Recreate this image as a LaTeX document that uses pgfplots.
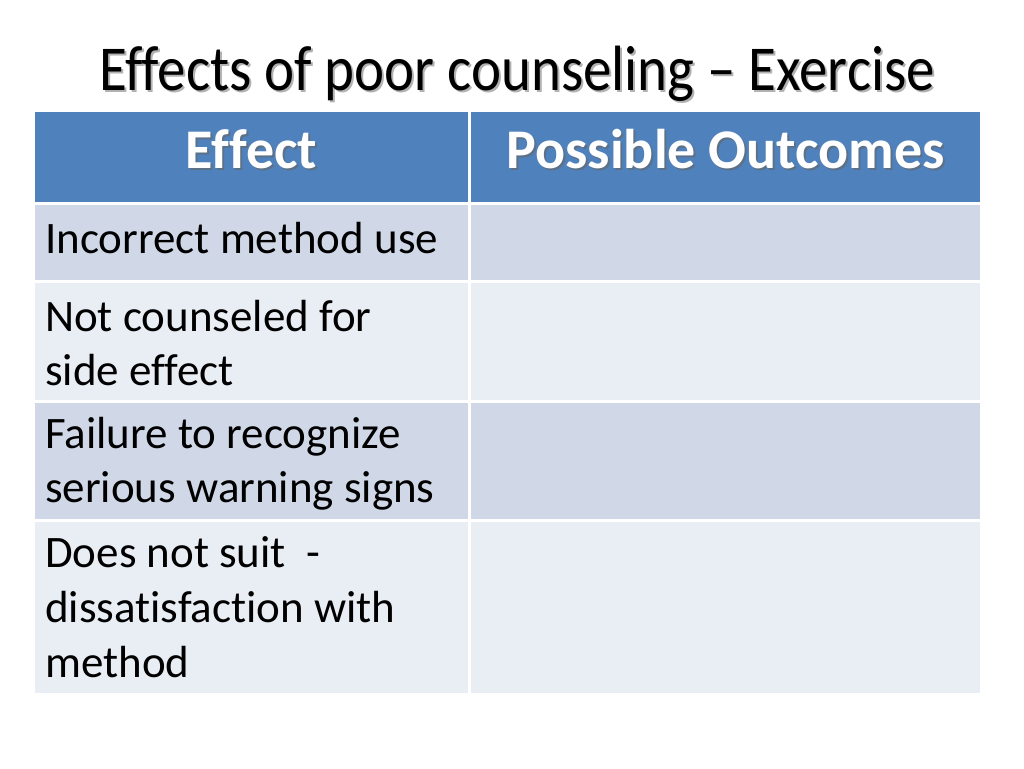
\documentclass[border=0pt]{standalone}
\usepackage{fontspec}
\setmainfont{Carlito}[Ligatures=NoCommon]
\usepackage{graphicx}
\usepackage{pgfplots}
\pgfplotsset{compat=1.18}
\definecolor{hdr}{HTML}{4F81BD}
\definecolor{rowA}{HTML}{D0D8E8}
\definecolor{rowB}{HTML}{E9EDF4}
\newcommand{\cell}[5]{\addplot[fill=#5, draw=none] coordinates {(#1,#2) (#3,#2) (#3,#4) (#1,#4)};}
\newcommand{\ttl}{\scalebox{0.89}[1]{\fontsize{64}{76}\selectfont Effects of poor counseling – Exercise}}
\begin{document}
\begin{tikzpicture}
\begin{axis}[
  width=1024pt, height=768pt, scale only axis,
  xmin=0, xmax=1024, ymin=0, ymax=768, y dir=reverse,
  axis lines=none, ticks=none, clip=false,
]
\cell{0}{0}{1024}{768}{white}
% header
\cell{35}{112}{468}{202}{hdr}
\cell{471}{112}{980}{202}{hdr}
% rows
\cell{35}{205}{468}{280}{rowA}
\cell{471}{205}{980}{280}{rowA}
\cell{35}{283}{468}{400}{rowB}
\cell{471}{283}{980}{400}{rowB}
\cell{35}{403}{468}{519}{rowA}
\cell{471}{403}{980}{519}{rowA}
\cell{35}{522}{468}{693}{rowB}
\cell{471}{522}{980}{693}{rowB}
% title
\node[anchor=base, text=black!30, xshift=2pt, yshift=-2pt, inner sep=0pt] at (axis cs:517,90) {\ttl};
\node[anchor=base, text=black, inner sep=0pt] at (axis cs:517,90) {\ttl};
% header text
\node[anchor=base, text=black!60, opacity=0.6, xshift=2pt, yshift=-2pt, inner sep=0pt] at (axis cs:251.5,168) {\fontsize{56}{66}\selectfont\bfseries Effect};
\node[anchor=base, text=white, inner sep=0pt] at (axis cs:251.5,168) {\fontsize{56}{66}\selectfont\bfseries Effect};
\node[anchor=base, text=black!60, opacity=0.6, xshift=2pt, yshift=-2pt, inner sep=0pt] at (axis cs:725.5,168) {\fontsize{56}{66}\selectfont\bfseries Possible Outcomes};
\node[anchor=base, text=white, inner sep=0pt] at (axis cs:725.5,168) {\fontsize{56}{66}\selectfont\bfseries Possible Outcomes};
% body text
\tikzset{body/.style={anchor=base west, inner sep=0pt, text=black, font=\fontsize{45}{54}\selectfont}}
\node[body] at (axis cs:45,253) {Incorrect method use};
\node[body] at (axis cs:45,331) {Not counseled for};
\node[body] at (axis cs:45,385) {side effect};
\node[body] at (axis cs:45,448) {Failure to recognize};
\node[body] at (axis cs:45,502) {serious warning signs};
\node[body] at (axis cs:45,567) {Does not suit\ \ -};
\node[body] at (axis cs:45,622) {dissatisfaction with};
\node[body] at (axis cs:45,677) {method};
\end{axis}
\end{tikzpicture}
\end{document}
